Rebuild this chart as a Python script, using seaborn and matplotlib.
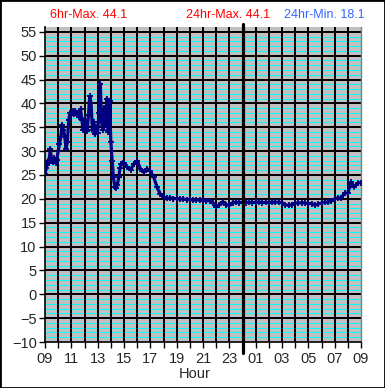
import numpy as np
import pandas as pd
import matplotlib
matplotlib.use('Agg')
import matplotlib.pyplot as plt
import seaborn as sns
from matplotlib.ticker import MultipleLocator, FixedLocator

# hours after 09:00, fine steps over the noisy morning, coarser later
hours_fine = np.round(np.arange(0, 6, 0.1), 2)
temps_fine = [25.2, 26.5, 28.0, 27.5, 30.5, 28.0, 27.8, 28.5, 27.5, 28.2,
              30.0, 31.5, 33.0, 35.5, 34.5, 33.0, 30.5, 32.0, 36.5, 38.0,
              37.5, 38.3, 37.8, 38.5, 37.6, 38.0, 37.2, 38.8, 36.5, 34.5,
              36.8, 35.0, 34.2, 37.5, 41.5, 40.0, 34.5, 36.0, 33.5, 35.0,
              33.8, 38.0, 44.1, 36.0, 34.5, 39.0, 35.5, 41.0, 34.0, 40.5,
              32.0, 28.0, 24.5, 22.5, 22.3, 23.0, 24.5, 26.5, 27.3, 27.6]
hours_coarse = np.arange(6, 24.01, 0.25)
temps_coarse = [27.5, 26.6, 26.1, 27.3, 28.0, 26.3, 25.6, 26.3, 25.8, 24.6,
                22.5, 21.0, 20.3, 20.1, 20.2, 20.0, 20.1, 19.9, 20.0, 19.8,
                19.9, 19.7, 19.8, 19.7, 19.7, 19.6, 19.6, 19.2, 18.3, 18.8,
                19.4, 18.8, 18.6, 19.2, 19.3, 19.2, 19.3, 19.2, 19.3, 19.2,
                19.3, 19.3, 19.2, 19.3, 19.2, 19.3, 19.3, 19.3, 19.2, 18.8,
                18.6, 18.8, 19.1, 19.1, 19.2, 19.1, 19.0, 19.0, 18.7, 18.9,
                19.1, 19.3, 19.3, 19.5, 20.0, 20.2, 20.2, 21.2, 21.2, 23.5,
                22.5, 23.3, 23.4]
hour_labels = ['09', '11', '13', '15', '17', '19', '21', '23', '01', '03', '05', '07', '09']
max6 = 44.1
max24 = 44.1
min24 = 18.1

df = pd.DataFrame({'hour': np.concatenate([hours_fine, hours_coarse]),
                   'temp': temps_fine + temps_coarse})

sns.set_style('white')
plt.rcParams['font.family'] = ['Liberation Sans', 'DejaVu Sans']

fig = plt.figure(figsize=(3.85, 3.88), dpi=100)
ax = fig.add_axes([45/385, 46/388, 316/385, 315/388])
ax.set_facecolor('#c0c0c0')

sns.lineplot(x='hour', y='temp', data=df, ax=ax, color='#000080', lw=2.3,
             marker='+', markersize=5, markeredgewidth=1.3, markeredgecolor='#000080',
             zorder=5)

ax.set_xlim(0, 24)
ax.set_ylim(-10, 56)
ax.xaxis.set_major_locator(FixedLocator(np.arange(0, 25, 2)))
ax.xaxis.set_minor_locator(MultipleLocator(1))
ax.set_xticklabels(hour_labels)
ax.yaxis.set_major_locator(FixedLocator(np.arange(-10, 56, 5)))
ax.yaxis.set_minor_locator(MultipleLocator(1))

# grid: thin cyan minor rows under black hour columns and 5-degree rows
for y in range(-9, 56):
    if y % 5:
        ax.axhline(y, color='#00ffff', lw=0.55, zorder=1, antialiased=False)
for y in range(-5, 56, 5):
    ax.axhline(y, color='black', lw=1.4, zorder=2, antialiased=False)
for x in range(1, 24):
    ax.axvline(x, color='black', lw=1.4, zorder=2, antialiased=False)

ax.tick_params(axis='x', which='both', direction='out', length=4, width=1, color='black',
               bottom=True, labelsize=10.5, pad=3)
ax.tick_params(axis='y', which='major', direction='out', length=4, width=1, color='black',
               left=True, labelsize=10.5, pad=2)
ax.tick_params(axis='y', which='minor', length=0)

for s in ['left', 'bottom']:
    ax.spines[s].set_color('black')
    ax.spines[s].set_linewidth(1.2)
ax.spines['top'].set_visible(False)
ax.spines['right'].set_color('#808080')
ax.spines['right'].set_linewidth(1)

# midnight marker
ax.axvline(15, ymin=-0.035, ymax=1.01, color='black', lw=2.3, clip_on=False, zorder=6)

ax.set_xlabel('')
ax.set_ylabel('')
fig.text(195/385, 1 - 374/388, 'Hour', ha='center', va='center', fontsize=10.5)

fig.text(89/385, 1 - 15/388, f'6hr-Max. {max6}', color='red', ha='center', va='center', fontsize=9)
fig.text(228/385, 1 - 15/388, f'24hr-Max. {max24}', color='red', ha='center', va='center', fontsize=9)
fig.text(324/385, 1 - 15/388, f'24hr-Min. {min24}', color='#3366ff', ha='center', va='center', fontsize=9)

fig.add_artist(plt.Rectangle((0, 0), 1, 1, transform=fig.transFigure, fill=False,
                             ec='black', lw=2))

fig.savefig('out.png', dpi=100)
